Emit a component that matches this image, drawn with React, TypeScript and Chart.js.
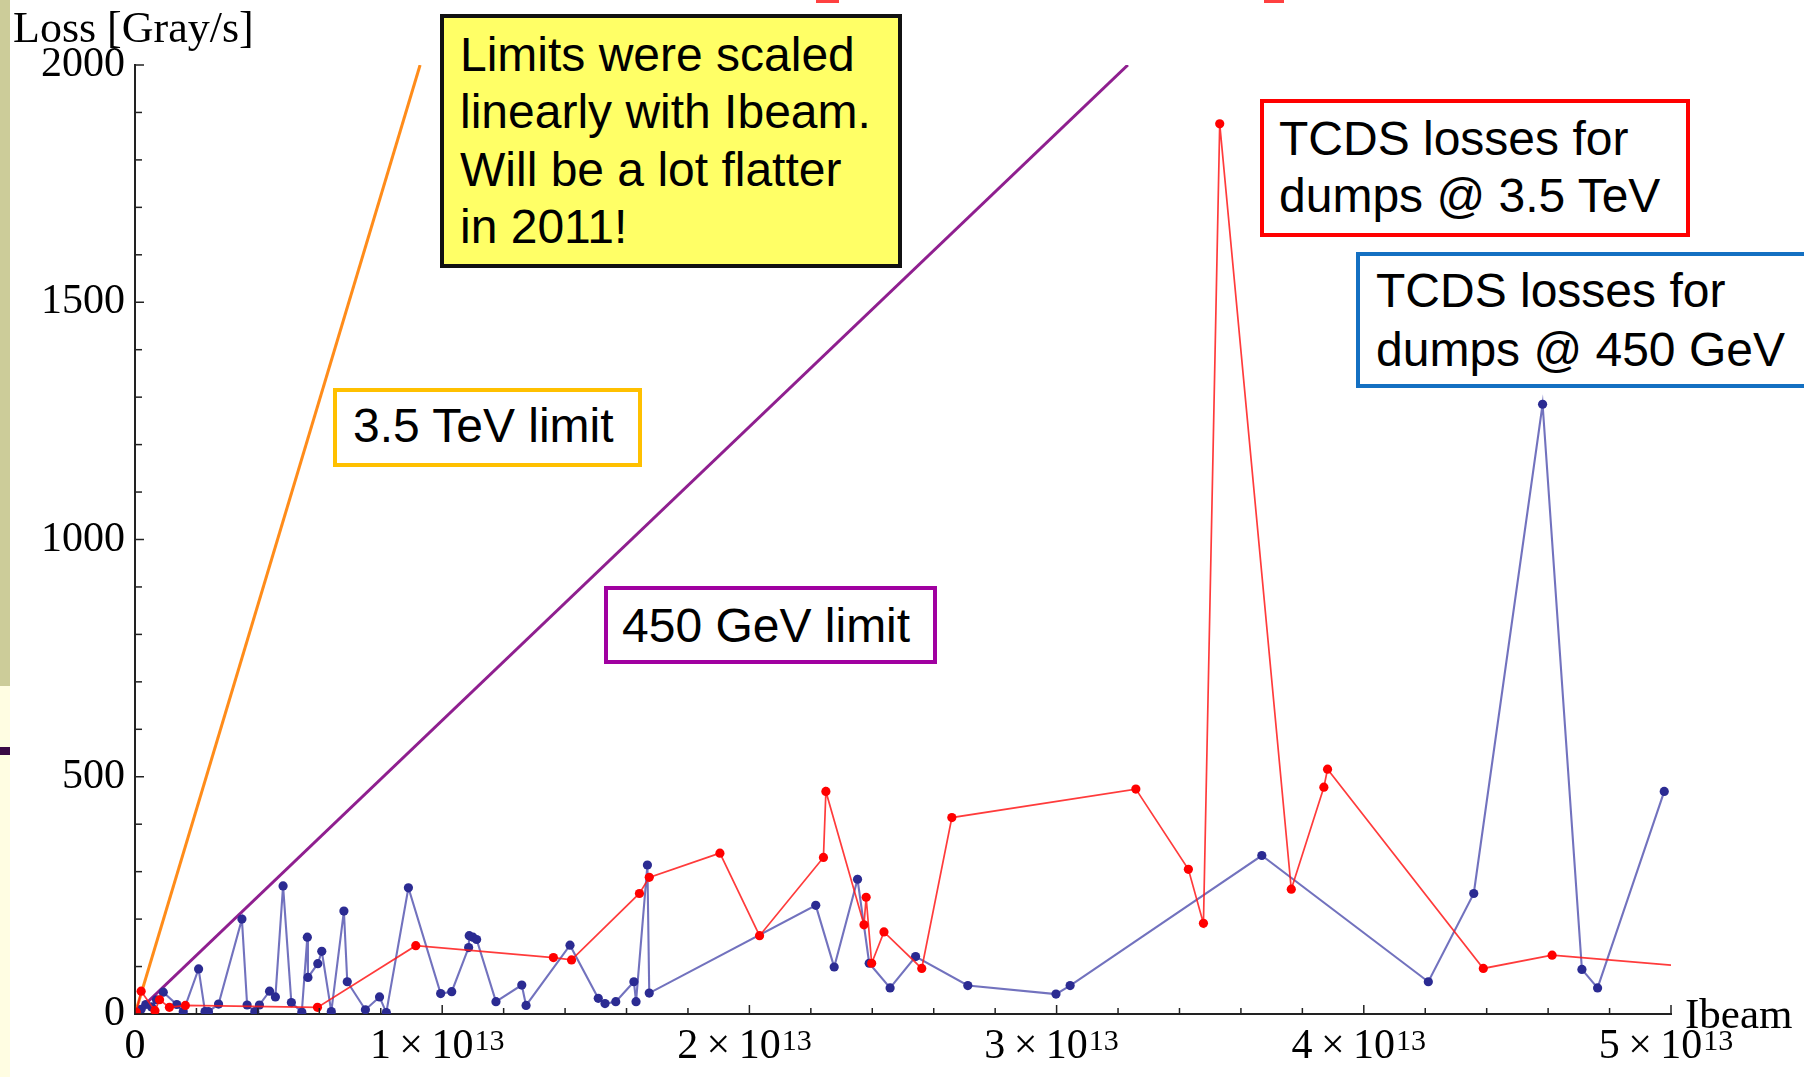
import React, { useEffect, useRef } from "react";
import { Chart, registerables } from "chart.js";

Chart.register(...registerables);

// ---------------- data ----------------
// TCDS losses for dumps @ 3.5 TeV (red)
const redIbeam = [
  0.004e13, 0.02e13, 0.065e13, 0.08e13, 0.112e13, 0.164e13, 0.594e13, 0.914e13,
  1.362e13, 1.421e13, 1.642e13, 1.674e13, 1.904e13, 2.033e13, 2.241e13, 2.249e13,
  2.373e13, 2.38e13, 2.398e13, 2.438e13, 2.561e13, 2.659e13, 3.258e13, 3.429e13,
  3.478e13, 3.531e13, 3.764e13, 3.87e13, 3.882e13, 4.389e13, 4.613e13, 5.0e13,
];
const redLoss = [
  4, 48, 7, 30, 14, 18, 14, 144,
  119, 114, 254, 288, 339, 165, 330, 469,
  188, 246, 107, 173, 96, 414, 474, 305,
  191, 1876, 263, 478, 516, 96, 124, 103,
];

// TCDS losses for dumps @ 450 GeV (blue)
const blueIbeam = [
  0.003e13, 0.02e13, 0.035e13, 0.054e13, 0.07e13, 0.092e13, 0.136e13, 0.157e13, 0.207e13, 0.228e13,
  0.239e13, 0.272e13, 0.348e13, 0.365e13, 0.39e13, 0.405e13, 0.438e13, 0.457e13, 0.482e13, 0.509e13,
  0.543e13, 0.561e13, 0.563e13, 0.595e13, 0.608e13, 0.639e13, 0.68e13, 0.691e13, 0.75e13, 0.796e13,
  0.818e13, 0.89e13, 0.995e13, 1.031e13, 1.086e13, 1.088e13, 1.1e13, 1.112e13, 1.175e13, 1.259e13,
  1.273e13, 1.416e13, 1.508e13, 1.53e13, 1.565e13, 1.624e13, 1.631e13, 1.668e13, 1.674e13, 2.216e13,
  2.276e13, 2.352e13, 2.39e13, 2.458e13, 2.541e13, 2.711e13, 2.998e13, 3.044e13, 3.668e13, 4.21e13,
  4.358e13, 4.582e13, 4.71e13, 4.761e13, 4.978e13,
];
const blueLoss = [
  3, 10, 20, 15, 30, 46, 20, 5, 95, 5,
  5, 21, 200, 19, 5, 19, 48, 36, 270, 24,
  4, 162, 77, 106, 132, 5, 217, 68, 9, 36,
  3, 266, 43, 47, 140, 165, 162, 157, 26, 61,
  18, 145, 33, 22, 26, 68, 26, 314, 44, 229,
  99, 284, 107, 55, 121, 60, 42, 60, 334, 68,
  254, 1285, 94, 55, 469,
];

// Limits (scaled linearly with Ibeam)
const limit35Ibeam = [0, 0.928e13];
const limit35Loss = [0, 2000];
const limit450Ibeam = [0, 3.232e13];
const limit450Loss = [0, 2000];

// axis ticks: x labels are mantissa × 10^exponent
const xTickValues = [0, 1e13, 2e13, 3e13, 4e13, 5e13];
const xTickMantissa = ["0", "1", "2", "3", "4", "5"];
const xTickExponent = ["", "13", "13", "13", "13", "13"];
const yTickValues = [0, 500, 1000, 1500, 2000];
const yTickLabels = ["0", "500", "1000", "1500", "2000"];

const toPoints = (xs: number[], ys: number[]) => xs.map((x, i) => ({ x, y: ys[i] }));

const SERIF = '"Liberation Serif", "Times New Roman", serif';
const SANS = '"Liberation Sans", Arial, sans-serif';

const mmaAxesPlugin = {
  id: "mmaAxes",
  afterDatasetsDraw(chart: any) {
    const { ctx, scales } = chart;
    const x = scales.x;
    const y = scales.y;
    ctx.save();
    ctx.strokeStyle = "#222";
    ctx.lineWidth = 1.5;
    // inward ticks on x axis (minor every 0.2e13)
    for (let i = 0; i <= 25; i++) {
      const px = x.getPixelForValue(i * 0.2e13);
      const len = i % 5 === 0 ? 9 : 6;
      ctx.beginPath();
      ctx.moveTo(px, y.bottom);
      ctx.lineTo(px, y.bottom - len);
      ctx.stroke();
    }
    // inward ticks on y axis (minor every 100)
    for (let i = 0; i <= 20; i++) {
      const py = y.getPixelForValue(i * 100);
      const len = i % 5 === 0 ? 9 : 7;
      ctx.beginPath();
      ctx.moveTo(x.left, py);
      ctx.lineTo(x.left + len, py);
      ctx.stroke();
    }
    ctx.fillStyle = "#000";
    ctx.textBaseline = "alphabetic";
    ctx.textAlign = "left";
    // x tick labels with real superscripts
    const base = y.bottom + 44;
    xTickValues.forEach((v, i) => {
      const px = x.getPixelForValue(v);
      const exp = xTickExponent[i];
      const main = exp ? `${xTickMantissa[i]}\u2009×\u200910` : xTickMantissa[i];
      ctx.font = `42px ${SERIF}`;
      const wMain = ctx.measureText(main).width;
      ctx.font = `30px ${SERIF}`;
      const wExp = exp ? ctx.measureText(exp).width + 1 : 0;
      const start = px - (wMain + wExp) / 2 - (exp ? 5 : 0);
      ctx.font = `42px ${SERIF}`;
      ctx.fillText(main, start, base);
      if (exp) {
        ctx.font = `30px ${SERIF}`;
        ctx.fillText(exp, start + wMain + 1, base - 8);
      }
    });
    // axis labels
    ctx.font = `44px ${SERIF}`;
    ctx.fillText("Loss [Gray/s]", x.left - 122, y.top - 23);
    ctx.font = `43px ${SERIF}`;
    ctx.fillText("Ibeam", x.right + 14, y.bottom + 14);
    ctx.restore();
  },
};

function ChartCanvas() {
  const ref = useRef<HTMLCanvasElement | null>(null);
  useEffect(() => {
    if (!ref.current) return;
    const chart = new Chart(ref.current, {
      type: "scatter",
      data: {
        datasets: [
          {
            label: "TCDS losses for dumps @ 3.5 TeV",
            data: toPoints(redIbeam, redLoss),
            showLine: true,
            borderColor: "rgba(255,25,25,0.85)",
            borderWidth: 1.7,
            pointRadius: redIbeam.map((_, i) => (i === redIbeam.length - 1 ? 0 : 4.6)),
            pointBackgroundColor: "#ff0000",
            pointBorderColor: "#ff0000",
            pointBorderWidth: 0,
          },
          {
            label: "TCDS losses for dumps @ 450 GeV",
            data: toPoints(blueIbeam, blueLoss),
            showLine: true,
            borderColor: "rgba(60,60,165,0.72)",
            borderWidth: 2.1,
            pointRadius: 4.6,
            pointBackgroundColor: "#2b2b92",
            pointBorderColor: "#2b2b92",
            pointBorderWidth: 0,
          },
          {
            label: "3.5 TeV limit",
            data: toPoints(limit35Ibeam, limit35Loss),
            showLine: true,
            borderColor: "#ff8c1a",
            borderWidth: 3,
            pointRadius: 0,
          },
          {
            label: "450 GeV limit",
            data: toPoints(limit450Ibeam, limit450Loss),
            showLine: true,
            borderColor: "#8f1f8f",
            borderWidth: 3,
            pointRadius: 0,
          },
        ],
      },
      options: {
        animation: false,
        responsive: false,
        devicePixelRatio: 1,
        layout: { padding: { top: 65, right: 133, left: 0, bottom: 0 } },
        plugins: { legend: { display: false }, tooltip: { enabled: false } },
        scales: {
          x: {
            type: "linear",
            min: 0,
            max: 5e13,
            afterFit: (s: any) => {
              s.height = 63;
            },
            afterBuildTicks: (s: any) => {
              s.ticks = xTickValues.map((v) => ({ value: v }));
            },
            ticks: { display: false },
            grid: { display: false, drawTicks: false },
            border: { display: true, color: "#222", width: 2 },
          },
          y: {
            type: "linear",
            min: 0,
            max: 2000,
            afterFit: (s: any) => {
              s.width = 135;
            },
            afterBuildTicks: (s: any) => {
              s.ticks = yTickValues.map((v) => ({ value: v }));
            },
            ticks: {
              autoSkip: false,
              padding: 10,
              color: "#000",
              font: { family: SERIF, size: 42 },
              callback: (v: any) => {
                const i = yTickValues.indexOf(Number(v));
                return i >= 0 ? yTickLabels[i] : "";
              },
            },
            grid: { display: false, drawTicks: false },
            border: { display: true, color: "#222", width: 2 },
          },
        },
      },
      plugins: [mmaAxesPlugin],
    });
    return () => chart.destroy();
  }, []);
  return (
    <canvas
      ref={ref}
      width={1804}
      height={1077}
      style={{ position: "absolute", left: 0, top: 0, width: 1804, height: 1077 }}
    />
  );
}

type BoxProps = { left: number; top: number; width: number; height: number; border: string; bg?: string };
const Box = ({ left, top, width, height, border, bg }: BoxProps) => (
  <div
    style={{
      position: "absolute",
      left,
      top,
      width,
      height,
      boxSizing: "border-box",
      border: `4px solid ${border}`,
      background: bg || "#fff",
    }}
  />
);

// text line positioned by its baseline
const Line = ({ left, baseline, text }: { left: number; baseline: number; text: string }) => (
  <div
    style={{
      position: "absolute",
      left,
      top: baseline - 46,
      font: `48px ${SANS}`,
      lineHeight: "57.6px",
      color: "#000",
      whiteSpace: "nowrap",
    }}
  >
    {text}
  </div>
);

export default function App() {
  return (
    <div
      style={{
        position: "fixed",
        left: 0,
        top: 0,
        width: 1804,
        height: 1077,
        overflow: "hidden",
        background: "#fff",
      }}
    >
      <ChartCanvas />
      {/* slide decorations */}
      <div style={{ position: "absolute", left: 0, top: 0, width: 10, height: 686, background: "#cccc99" }} />
      <div style={{ position: "absolute", left: 0, top: 686, width: 10, height: 391, background: "#fffde2" }} />
      <div style={{ position: "absolute", left: 0, top: 747, width: 10, height: 8, background: "#3a0a45" }} />
      <div style={{ position: "absolute", left: 816, top: 0, width: 23, height: 3, background: "#ff4040" }} />
      <div style={{ position: "absolute", left: 1264, top: 0, width: 20, height: 3, background: "#ff4040" }} />

      {/* yellow note */}
      <Box left={440} top={14} width={462} height={254} border="#111" bg="#ffff66" />
      <Line left={460} baseline={71.7} text="Limits were scaled" />
      <Line left={460} baseline={129.2} text="linearly with Ibeam." />
      <Line left={460} baseline={186.7} text="Will be a lot flatter" />
      <Line left={460} baseline={244.2} text="in 2011!" />

      {/* red label */}
      <Box left={1260} top={99} width={430} height={138} border="#ff0000" />
      <Line left={1279} baseline={155.7} text="TCDS losses for" />
      <Line left={1279} baseline={213.3} text="dumps @ 3.5 TeV" />

      {/* blue label */}
      <Box left={1356} top={252} width={520} height={136} border="#1470c2" />
      <Line left={1376} baseline={308.3} text="TCDS losses for" />
      <Line left={1376} baseline={366.7} text="dumps @ 450 GeV" />

      {/* orange label */}
      <Box left={333} top={388} width={309} height={79} border="#ffc000" />
      <Line left={353} baseline={443.3} text="3.5 TeV limit" />

      {/* purple label */}
      <Box left={604} top={586} width={333} height={78} border="#a000a0" />
      <Line left={622} baseline={642.7} text="450 GeV limit" />
    </div>
  );
}
